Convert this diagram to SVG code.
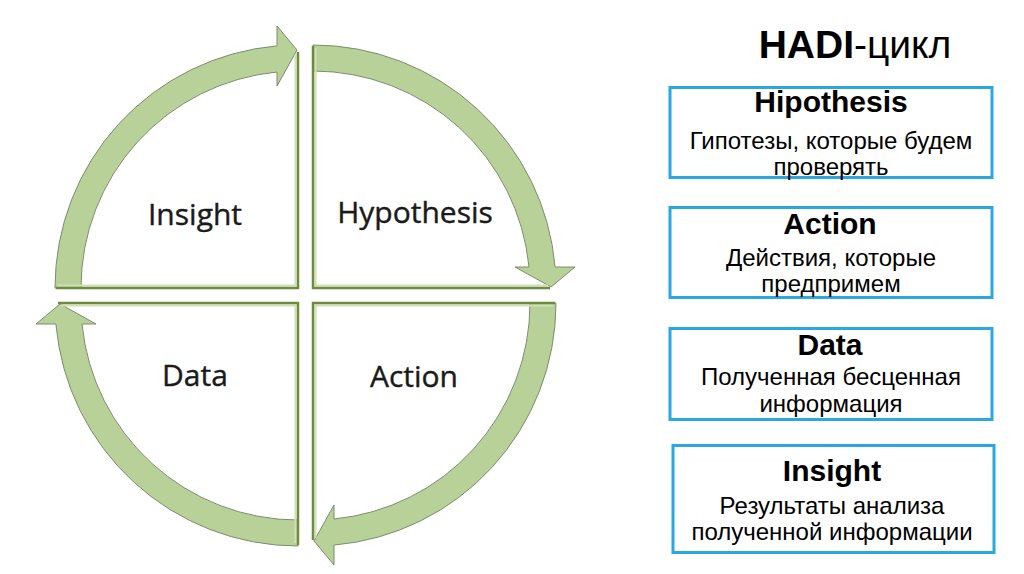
<svg xmlns="http://www.w3.org/2000/svg" width="1024" height="574" viewBox="0 0 1024 574">
<style>
.pie{fill:#ffffff;stroke:none}
.edge{fill:none;stroke:#6f8b3c;stroke-width:2.5;stroke-linejoin:miter}
.edge2{fill:none;stroke:#cfe0b8;stroke-width:2}
.band{fill:#b8d199;stroke:#7d8c6c;stroke-width:1}
.qlabel{font-family:"Open Sans","Liberation Sans",sans-serif;font-size:30px;fill:#1a1a1a;stroke:#1a1a1a;stroke-width:0.4;text-anchor:middle}
.box{fill:#ffffff;stroke:#2aa8df;stroke-width:3}
.head{font-family:"Liberation Sans",Arial,sans-serif;font-size:30px;font-weight:bold;fill:#000;text-anchor:middle}
.body{font-family:"Liberation Sans",Arial,sans-serif;font-size:24px;fill:#000;text-anchor:middle}
.title{font-family:"Liberation Sans",Arial,sans-serif;font-size:39px;fill:#000;text-anchor:middle}
</style>
<rect width="1024" height="574" fill="#ffffff"/>

<g id="node-insight">
<path class="pie" d="M298,288 L55,288 A243,243 0 0 1 298,45 Z"/>
</g>
<g id="node-hypothesis">
<path class="pie" d="M313,288 L313,45 A243,243 0 0 1 556,288 Z"/>
</g>
<g id="node-data">
<path class="pie" d="M298,303 L298,546 A243,243 0 0 1 55,303 Z"/>
</g>
<g id="node-action">
<path class="pie" d="M313,303 L556,303 A243,243 0 0 1 313,546 Z"/>
</g>

<g id="connectors">
<path class="band" d="M55,288 A243,243 0 0 1 277,45.9 L277,26 L297,50 L277,86 L277,72 A217,217 0 0 0 81,288 Z"/>
<path class="band" d="M313,45 A243,243 0 0 1 555.1,267 L575,267 L551,287 L515,267 L529,267 A217,217 0 0 0 313,71 Z"/>
<path class="band" d="M556,303 A243,243 0 0 1 334,545.1 L334,565 L314,541 L334,505 L334,519 A217,217 0 0 0 530,303 Z"/>
<path class="band" d="M298,546 A243,243 0 0 1 55.9,324 L36,324 L60,304 L96,324 L82,324 A217,217 0 0 0 298,520 Z"/>
</g>

<g id="quadrant-edges">
<path class="edge2" d="M58,285.5 L295.5,285.5 L295.5,54"/>
<path class="edge" d="M56,288 L298,288 L298,52"/>
<path class="edge2" d="M315.5,48 L315.5,285.5 L548,285.5"/>
<path class="edge" d="M313,46 L313,288 L550,288"/>
<path class="edge2" d="M60,305.5 L295.5,305.5 L295.5,543"/>
<path class="edge" d="M58,303 L298,303 L298,545"/>
<path class="edge2" d="M553,305.5 L315.5,305.5 L315.5,538"/>
<path class="edge" d="M555,303 L313,303 L313,540"/>
</g>

<g id="labels">
<text class="qlabel" x="195" y="225">Insight</text>
<text class="qlabel" x="415" y="223">Hypothesis</text>
<text class="qlabel" x="195" y="386">Data</text>
<text class="qlabel" x="414" y="387">Action</text>
</g>

<text class="title" x="855" y="57.5"><tspan font-weight="bold">HADI</tspan>-цикл</text>

<g id="box-hipothesis">
<rect class="box" x="670" y="87.5" width="322" height="90"/>
<text class="head" x="831" y="112">Hipothesis</text>
<text class="body" x="831" y="149">Гипотезы, которые будем</text>
<text class="body" x="831" y="174.5">проверять</text>
</g>
<g id="box-action">
<rect class="box" x="670" y="207.5" width="322" height="90"/>
<text class="head" x="830" y="234">Action</text>
<text class="body" x="831" y="266">Действия, которые</text>
<text class="body" x="831" y="292">предпримем</text>
</g>
<g id="box-data">
<rect class="box" x="670" y="328.5" width="322" height="91"/>
<text class="head" x="830" y="355">Data</text>
<text class="body" x="831" y="385">Полученная бесценная</text>
<text class="body" x="831" y="412">информация</text>
</g>
<g id="box-insight">
<rect class="box" x="673" y="445.5" width="321" height="107"/>
<text class="head" x="832" y="480.5">Insight</text>
<text class="body" x="832" y="514">Результаты анализа</text>
<text class="body" x="832" y="540">полученной информации</text>
</g>
</svg>
